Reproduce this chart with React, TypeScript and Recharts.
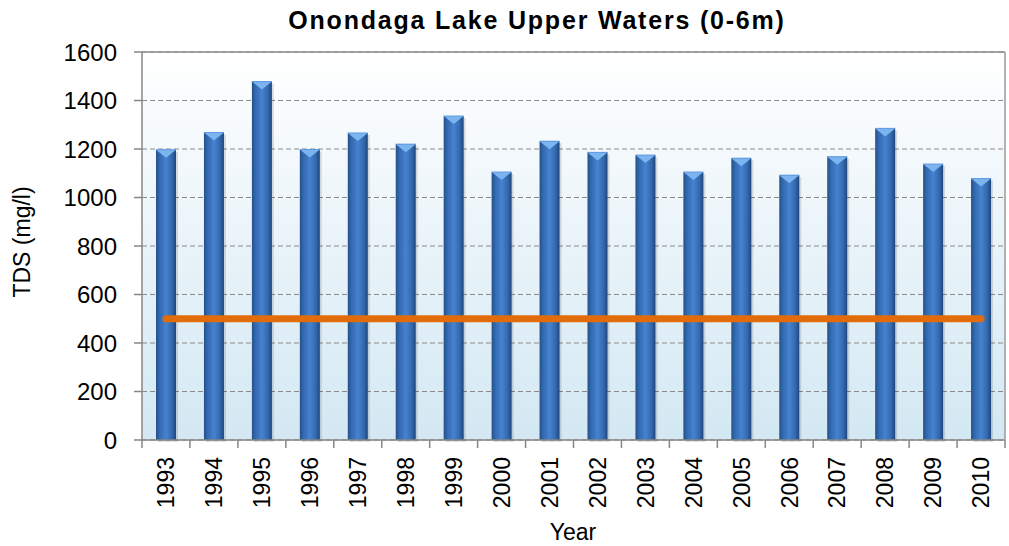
import React from "react";
import {
  ComposedChart,
  Bar,
  Line,
  XAxis,
  YAxis,
  CartesianGrid,
  ReferenceLine,
} from "recharts";

const years = [
  "1993", "1994", "1995", "1996", "1997", "1998", "1999", "2000", "2001",
  "2002", "2003", "2004", "2005", "2006", "2007", "2008", "2009", "2010",
];
const tdsValues = [
  1197, 1268, 1478, 1198, 1266, 1220, 1336, 1105, 1232,
  1186, 1175, 1105, 1162, 1092, 1168, 1285, 1138, 1078,
];
const guidelineValues = [
  500, 500, 500, 500, 500, 500, 500, 500, 500,
  500, 500, 500, 500, 500, 500, 500, 500, 500,
];
const yTicks = [0, 200, 400, 600, 800, 1000, 1200, 1400, 1600];

const data = years.map((year, i) => ({
  year,
  tds: tdsValues[i],
  guideline: guidelineValues[i],
}));

const W = 1009;
const H = 546;
const PLOT_LEFT = 142;
const PLOT_RIGHT = 1005;
const PLOT_TOP = 52;
const PLOT_BOTTOM = 440;
const BAND = (PLOT_RIGHT - PLOT_LEFT) / years.length;
const FONT = "'Liberation Sans', Arial, sans-serif";

const CylBar = (props: any) => {
  const { x, y, width, height } = props;
  if (height == null || height <= 0) return null;
  const cap = 8;
  return (
    <g>
      <rect x={x + 2} y={y + 2} width={width} height={height} fill="rgba(0,0,0,0.12)" />
      <rect x={x} y={y} width={width} height={height} fill="url(#barGrad)" />
      <polygon
        points={`${x},${y} ${x + width},${y} ${x + width / 2},${y + cap}`}
        fill="#7cb4ef"
      />
      <line x1={x} y1={y} x2={x + width} y2={y} stroke="#5e9be0" strokeWidth={1} />
    </g>
  );
};

const XTick = (props: any) => {
  const { x, y, payload, index } = props;
  const axisY = y - 17;
  const isLast = index === years.length - 1;
  return (
    <g>
      <line x1={x - BAND / 2} y1={axisY} x2={x - BAND / 2} y2={axisY + 8} stroke="#868686" strokeWidth={1.5} />
      {isLast && (
        <line x1={x + BAND / 2} y1={axisY} x2={x + BAND / 2} y2={axisY + 8} stroke="#868686" strokeWidth={1.5} />
      )}
      <text
        x={x}
        y={y}
        dy="0.36em"
        transform={`rotate(-90, ${x}, ${y})`}
        textAnchor="end"
        fontSize={23}
        fontFamily={FONT}
        fill="#000"
      >
        {payload.value}
      </text>
    </g>
  );
};

export default function App() {
  return (
    <div style={{ position: "absolute", left: 0, top: 0, width: W, height: H, background: "#fff" }}>
      <ComposedChart
        width={W}
        height={H}
        data={data}
        margin={{ top: PLOT_TOP, right: W - PLOT_RIGHT - 4, bottom: 0, left: PLOT_LEFT - 70 }}
        barCategoryGap={0}
      >
        <defs>
          <linearGradient id="bgGrad" x1="0" y1="0" x2="0" y2="1">
            <stop offset="0%" stopColor="#ffffff" />
            <stop offset="100%" stopColor="#d3e8f3" />
          </linearGradient>
          <linearGradient id="barGrad" x1="0" y1="0" x2="1" y2="0">
            <stop offset="0%" stopColor="#24508a" />
            <stop offset="18%" stopColor="#3369b0" />
            <stop offset="50%" stopColor="#4583d0" />
            <stop offset="80%" stopColor="#3369b0" />
            <stop offset="100%" stopColor="#1f4678" />
          </linearGradient>
        </defs>
        <CartesianGrid
          vertical={false}
          stroke="#8a8a8a"
          strokeDasharray="5 3"
          fill="url(#bgGrad)"
          fillOpacity={1}
        />
        <XAxis
          dataKey="year"
          height={H - PLOT_BOTTOM}
          axisLine={{ stroke: "#868686", strokeWidth: 1.5 }}
          tickLine={false}
          tickSize={8}
          tickMargin={9}
          tick={<XTick />}
          interval={0}
        />
        <YAxis
          width={70}
          domain={[0, 1600]}
          ticks={yTicks}
          interval={0}
          axisLine={{ stroke: "#868686", strokeWidth: 1.5 }}
          tickLine={{ stroke: "#868686", strokeWidth: 1.5 }}
          tickSize={8}
          tickMargin={17}
          tick={{ fontSize: 24, fontFamily: FONT, fill: "#000" }}
        />
        <YAxis
          yAxisId="r"
          orientation="right"
          width={4}
          tick={false}
          tickLine={false}
          axisLine={{ stroke: "#9a9a9a", strokeWidth: 1.5 }}
        />
        <ReferenceLine y={1600} stroke="#8a8a8a" strokeWidth={1.5} />
        <Bar dataKey="tds" barSize={20} shape={<CylBar />} isAnimationActive={false} />
        <Line
          dataKey="guideline"
          stroke="#e36c0a"
          strokeWidth={7}
          strokeLinecap="round"
          dot={false}
          activeDot={false}
          isAnimationActive={false}
        />
        <text
          x={537}
          y={29}
          textAnchor="middle"
          fontSize={25}
          letterSpacing={1.8}
          fontWeight="bold"
          fontFamily={FONT}
          fill="#000"
        >
          Onondaga Lake Upper Waters (0-6m)
        </text>
        <text
          x={22}
          y={242}
          transform="rotate(-90, 22, 242)"
          textAnchor="middle"
          dy="0.36em"
          fontSize={23}
          fontFamily={FONT}
          fill="#000"
        >
          TDS (mg/l)
        </text>
        <text
          x={573}
          y={540}
          textAnchor="middle"
          fontSize={23}
          fontFamily={FONT}
          fill="#000"
        >
          Year
        </text>
      </ComposedChart>
    </div>
  );
}
